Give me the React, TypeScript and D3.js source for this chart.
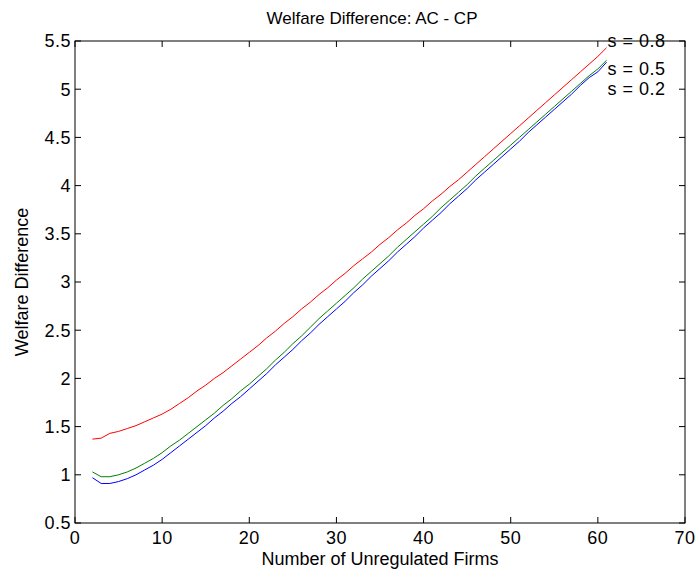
import React from 'react';
import * as d3 from 'd3';

// number of unregulated firms, 2..61
const firms = d3.range(2, 62);

// welfare difference AC - CP, one value per firm count
const s08 = [
  1.37, 1.38, 1.43, 1.45, 1.48, 1.51, 1.55, 1.59, 1.63, 1.68,
  1.74, 1.80, 1.87, 1.93, 2.00, 2.06, 2.13, 2.20, 2.27, 2.34,
  2.42, 2.49, 2.57, 2.64, 2.72, 2.79, 2.87, 2.94, 3.02, 3.09,
  3.17, 3.24, 3.31, 3.39, 3.46, 3.54, 3.61, 3.69, 3.76, 3.84,
  3.91, 3.99, 4.06, 4.14, 4.22, 4.30, 4.38, 4.46, 4.54, 4.62,
  4.70, 4.78, 4.86, 4.94, 5.02, 5.10, 5.18, 5.26, 5.34, 5.43,
];
const s05 = [
  1.03, 0.98, 0.98, 1.00, 1.03, 1.07, 1.12, 1.17, 1.23, 1.30,
  1.36, 1.43, 1.50, 1.57, 1.64, 1.72, 1.79, 1.87, 1.94, 2.02,
  2.10, 2.19, 2.27, 2.36, 2.44, 2.53, 2.62, 2.70, 2.78, 2.86,
  2.94, 3.03, 3.11, 3.19, 3.27, 3.36, 3.44, 3.52, 3.60, 3.68,
  3.77, 3.85, 3.93, 4.01, 4.10, 4.18, 4.26, 4.34, 4.42, 4.50,
  4.58, 4.66, 4.74, 4.82, 4.90, 4.98, 5.06, 5.14, 5.21, 5.30,
];
const s02 = [
  0.97, 0.91, 0.91, 0.93, 0.96, 1.00, 1.05, 1.10, 1.16, 1.23,
  1.30, 1.37, 1.44, 1.51, 1.59, 1.66, 1.74, 1.81, 1.89, 1.97,
  2.05, 2.14, 2.22, 2.30, 2.39, 2.47, 2.56, 2.64, 2.72, 2.80,
  2.89, 2.97, 3.06, 3.14, 3.22, 3.31, 3.39, 3.47, 3.56, 3.64,
  3.72, 3.81, 3.89, 3.97, 4.06, 4.14, 4.22, 4.30, 4.38, 4.46,
  4.55, 4.63, 4.71, 4.79, 4.87, 4.95, 5.04, 5.12, 5.18, 5.28,
];

const seriesNames = ['s = 0.8', 's = 0.5', 's = 0.2'];
const seriesColors = ['#ff0000', '#008000', '#0000ff'];
// where the text labels sit (data units)
const labelX = [61, 61, 61];
const labelY = [5.5, 5.21, 5.01];

const xTicks = [0, 10, 20, 30, 40, 50, 60, 70];
const yTicks = [0.5, 1, 1.5, 2, 2.5, 3, 3.5, 4, 4.5, 5, 5.5];

const W = 697;
const H = 574;
const margin = { top: 41, right: 12, bottom: 51, left: 75 };
const font = 'Liberation Sans, Arial, sans-serif';
const fs = 18;
const tickLen = 6;

export default function App() {
  const x = d3.scaleLinear().domain([0, 70]).range([margin.left, W - margin.right]);
  const y = d3.scaleLinear().domain([0.5, 5.5]).range([H - margin.bottom, margin.top]);
  const line = d3.line<number>()
    .x((d, i) => x(firms[i]))
    .y((d) => y(d));
  const allSeries = [s08, s05, s02];

  const x0 = x.range()[0];
  const x1 = x.range()[1];
  const y0 = y.range()[0];
  const y1 = y.range()[1];

  return (
    <svg
      width={W}
      height={H}
      style={{ position: 'absolute', left: 0, top: 0, background: '#fff' }}
      fontFamily={font}
    >
      <rect x={0} y={0} width={W} height={H} fill="#fff" />

      {/* data lines */}
      {allSeries.map((s, i) => (
        <path key={i} d={line(s) || ''} fill="none" stroke={seriesColors[i]} strokeWidth={1} />
      ))}

      {/* box */}
      <rect x={x0} y={y1} width={x1 - x0} height={y0 - y1} fill="none" stroke="#000" strokeWidth={1} />

      {/* x ticks, inward, top and bottom */}
      {xTicks.map((t) => (
        <g key={'x' + t}>
          <line x1={x(t)} x2={x(t)} y1={y0} y2={y0 - tickLen} stroke="#000" />
          <line x1={x(t)} x2={x(t)} y1={y1} y2={y1 + tickLen} stroke="#000" />
          <text x={x(t)} y={y0 + 21} textAnchor="middle" fontSize={fs} letterSpacing={0.5}>{t}</text>
        </g>
      ))}

      {/* y ticks, inward, left and right */}
      {yTicks.map((t) => (
        <g key={'y' + t}>
          <line x1={x0} x2={x0 + tickLen} y1={y(t)} y2={y(t)} stroke="#000" />
          <line x1={x1} x2={x1 - tickLen} y1={y(t)} y2={y(t)} stroke="#000" />
          <text x={x0 - 4} y={y(t)} dy="0.35em" textAnchor="end" fontSize={fs} letterSpacing={0.5}>{t}</text>
        </g>
      ))}

      {/* series labels */}
      {seriesNames.map((n, i) => (
        <text key={n} x={x(labelX[i]) + 1} y={y(labelY[i])} dy="0.35em" fontSize={fs} letterSpacing={0.5}>{n}</text>
      ))}

      {/* title and axis labels */}
      <text x={(x0 + x1) / 2 - 8} y={24} textAnchor="middle" fontSize={fs - 1}>Welfare Difference: AC - CP</text>
      <text x={(x0 + x1) / 2} y={y0 + 42} textAnchor="middle" fontSize={fs}>Number of Unregulated Firms</text>
      <text
        transform={`translate(28,${(y0 + y1) / 2}) rotate(-90)`}
        textAnchor="middle"
        fontSize={fs}
      >
        Welfare Difference
      </text>
    </svg>
  );
}
